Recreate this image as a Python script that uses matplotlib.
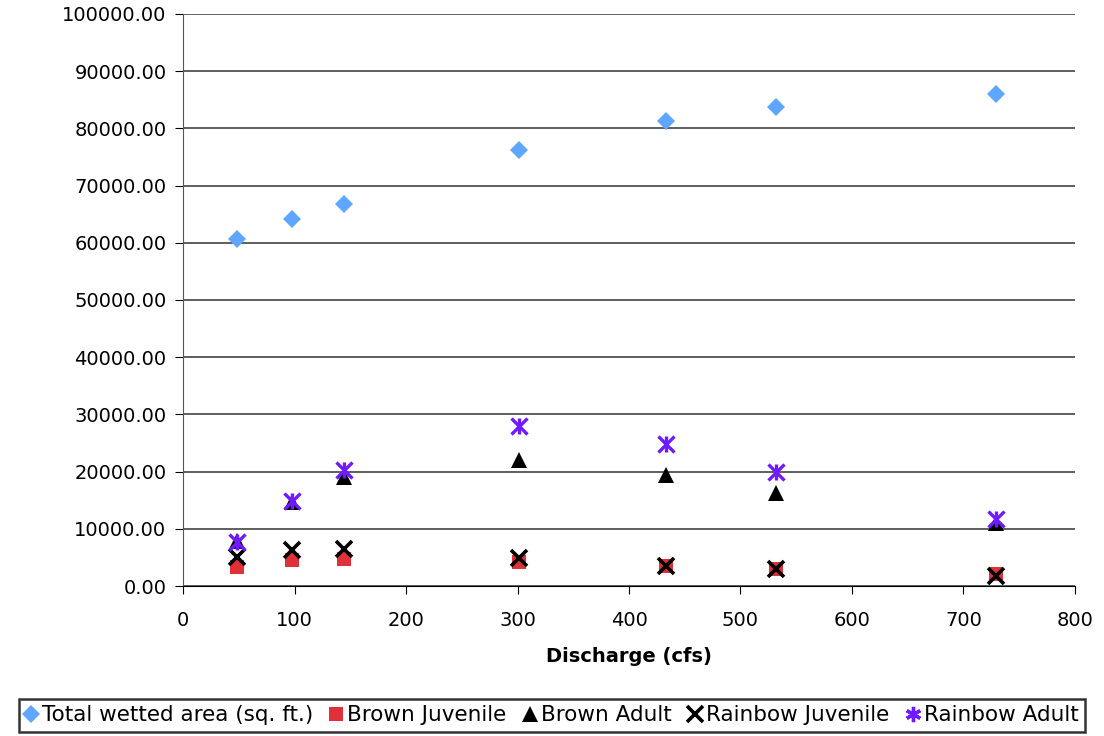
import matplotlib
matplotlib.use('Agg')
import matplotlib.pyplot as plt
from matplotlib.ticker import FormatStrFormatter
from matplotlib.lines import Line2D

# data
discharge = [48, 98, 144, 301, 433, 532, 729]
total_area = [60700, 64200, 66800, 76200, 81300, 83700, 86000]
brown_juv = [3400, 4500, 4700, 4200, 3500, 3000, 2100]
brown_adult = [7900, 14600, 19100, 22000, 19400, 16300, 11000]
rainbow_juv = [5000, 6300, 6400, 4900, 3500, 3000, 1800]
rainbow_adult = [7700, 14900, 20300, 28000, 24800, 19900, 11800]

plt.rcParams['font.family'] = 'DejaVu Sans'

fig = plt.figure(figsize=(11.04, 7.36), dpi=100)
ax = fig.add_axes([0.1658, 0.2038, 0.8079, 0.7772])

ax.plot(discharge, total_area, 'D', color='#5ea6ff', markersize=9, markeredgewidth=0,
        label='Total wetted area (sq. ft.)', clip_on=False)
ax.plot(discharge, brown_juv, 's', color='#e0303a', markersize=10, markeredgewidth=0,
        label='Brown Juvenile', clip_on=False)
ax.plot(discharge, brown_adult, '^', color='black', markersize=11, markeredgewidth=0,
        label='Brown Adult', clip_on=False)
ax.plot(discharge, rainbow_juv, 'x', color='black', markersize=11, markeredgewidth=2.6,
        label='Rainbow Juvenile', clip_on=False)
ax.plot(discharge, rainbow_adult, 'x', color='#6f1aff', markersize=11, markeredgewidth=2.4,
        clip_on=False)
ax.plot(discharge, rainbow_adult, '|', color='#6f1aff', markersize=12, markeredgewidth=2.4,
        clip_on=False)

ax.set_xlim(0, 800)
ax.set_ylim(0, 100000)
ax.set_xticks(range(0, 801, 100))
ax.set_yticks(range(0, 100001, 10000))
ax.yaxis.set_major_formatter(FormatStrFormatter('%.2f'))
ax.grid(axis='y', color='#333333', linewidth=1.1)
ax.set_axisbelow(True)
for s in ['top', 'right']:
    ax.spines[s].set_visible(False)
ax.spines['left'].set_color('#555555')
ax.spines['bottom'].set_color('black')
ax.tick_params(axis='both', direction='out', length=6, labelsize=14, pad=6)
ax.tick_params(axis='x', pad=12)
ax.set_xlabel('Discharge (cfs)', fontsize=14, fontweight='bold', labelpad=12)

# legend: proxy for the star-like rainbow adult marker
handles, labels = ax.get_legend_handles_labels()
handles.append(Line2D([], [], marker=(6, 2, 0), linestyle='none', color='#6f1aff',
                      markersize=11, markeredgewidth=2.4))
labels.append('Rainbow Adult')
leg = fig.legend(handles, labels, loc='lower center', bbox_to_anchor=(0.5, 0.0),
                 ncol=5, fontsize=15.5, frameon=True, fancybox=False, edgecolor='black',
                 handlelength=0.5, handletextpad=0.25, columnspacing=0.85, borderpad=0.3,
                 borderaxespad=0.2)
leg.get_frame().set_linewidth(1.8)

fig.savefig('out.png', dpi=100, facecolor='white')
